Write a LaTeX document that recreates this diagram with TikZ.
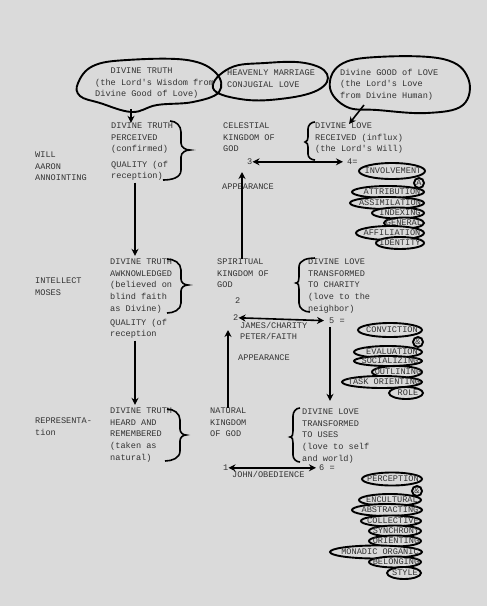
\documentclass[tikz,border=0pt]{standalone}
\usepackage{fontspec}
\setmonofont{Liberation Mono}
\usetikzlibrary{arrows.meta,calc}
\definecolor{bg}{HTML}{DADADA}
\definecolor{ink}{HTML}{333333}
\begin{document}
\begin{tikzpicture}[x=1pt,y=-1pt,
  font=\ttfamily\fontsize{8.6}{11.6}\selectfont,
  txt/.style={anchor=north west,inner sep=0pt,yshift=5.2pt,align=left,text=ink,execute at begin node=\strut},
  stxt/.style={anchor=center,inner sep=0pt,text=ink},
  arr/.style={line width=1.6pt,-{Stealth[length=7pt,width=7pt]}},
  darr/.style={line width=1.6pt,{Stealth[length=7pt,width=7pt]}-{Stealth[length=7pt,width=7pt]}},
  brc/.style={line width=1.6pt},
  cloud/.style={line width=1.9pt},
  stk/.style={draw,line width=1.9pt,fill=bg}]
\fill[bg] (0,0) rectangle (487,606);
\useasboundingbox (0,0) rectangle (487,606);

% ---- top clouds ----
\draw[cloud] plot[smooth cycle,tension=0.65] coordinates {(78,83) (93,66) (127,60) (187,60) (216,73) (219,92) (193,102) (157,105) (132,112) (100,103) (80,96)};
\draw[cloud] plot[smooth cycle,tension=0.7] coordinates {(213,88) (230,68) (265,63) (305,63) (327,74) (318,90) (280,99) (240,99)};
\draw[cloud] plot[smooth cycle,tension=0.65] coordinates {(330,88) (340,65) (377,57) (443,59) (468,78) (463,105) (427,113) (377,110) (347,107)};
\node[txt] (cl1) at (95,73) {\ \ \ DIVINE TRUTH\\(the Lord's Wisdom from\\Divine Good of Love)};
\node[txt] (cl2) at (227,75) {HEAVENLY MARRIAGE\\CONJUGIAL LOVE};
\node[txt] (cl3) at (340,74) {Divine GOOD of LOVE\\(the Lord's Love\\from Divine Human)};

% ---- row 1 ----
\node[txt] (wil) at (35,157) {WILL\\AARON\\ANNOINTING};
\node[txt] (t1) at (111,128) {DIVINE TRUTH\\PERCEIVED\\(confirmed)};
\node[txt] (q1) at (111,166) {QUALITY (of\\reception)};
\node[txt] (cel) at (223,128) {CELESTIAL\\KINGDOM OF\\GOD};
\node[txt] (love1) at (315,128) {DIVINE LOVE\\RECEIVED (influx)\\(the Lord's Will)};
\node[txt] (n3) at (247,161) {3};
\node[txt] (n4) at (347,161) {4=};
\node[txt] (app1) at (222,186) {APPEARANCE};

% ---- row 2 ----
\node[txt] (int) at (35,283) {INTELLECT\\MOSES};
\node[txt] (t2) at (110,264) {DIVINE TRUTH\\AWKNOWLEDGED\\(believed on\\blind faith\\as Divine)};
\node[txt] (q2) at (110,324) {QUALITY (of\\reception};
\node[txt] (sp) at (217,264) {SPIRITUAL\\KINGDOM OF\\GOD};
\node[txt] (sp2) at (235,300) {2};
\node[txt] (love2) at (308,264) {DIVINE LOVE\\TRANSFORMED\\TO CHARITY\\(love to the\\neighbor)};
\node[txt] (n2) at (233,317) {2};
\node[txt] (n5) at (329,320) {5 =};
\node[txt] (jam) at (240,327) {JAMES/CHARITY\\PETER/FAITH};
\node[txt] (app2) at (238,357) {APPEARANCE};

% ---- row 3 ----
\node[txt] (rep) at (35,423) {REPRESENTA-\\tion};
\node[txt] (t3) at (110,413) {DIVINE TRUTH\\HEARD AND\\REMEMBERED\\(taken as\\natural)};
\node[txt] (nat) at (210,413) {NATURAL\\KINGDOM\\OF GOD};
\node[txt] (love3) at (302,414) {DIVINE LOVE\\TRANSFORMED\\TO USES\\(love to self\\and world)};
\node[txt] (n1) at (223,467) {1};
\node[txt] (n6) at (319,467) {6 =};
\node[txt] (joh) at (232,474) {JOHN/OBEDIENCE};

% ---- braces ----
\draw[brc] (170,121) to[out=0,in=90] (181,132) -- (181,143) to[out=-90,in=180] (190,150) to[out=180,in=90] (181,157) -- (181,170) to[out=-90,in=0] (163,180);
\draw[brc] (167,259) to[out=0,in=90] (181,270) -- (181,279) to[out=-90,in=180] (188,285) to[out=180,in=90] (181,291) -- (181,303) to[out=-90,in=0] (167,313);
\draw[brc] (167,409) to[out=0,in=90] (180,420) -- (180,429) to[out=-90,in=180] (186,435) to[out=180,in=90] (180,441) -- (180,451) to[out=-90,in=0] (165,461);
\draw[brc] (315,122) to[out=180,in=90] (308,129) -- (308,137) to[out=-90,in=0] (305,142) to[out=0,in=90] (308,147) -- (308,154) to[out=-90,in=180] (315,160);
\draw[brc] (315,258) to[out=180,in=90] (299,267) -- (299,277) to[out=-90,in=0] (296,283) to[out=0,in=90] (299,289) -- (299,303) to[out=-90,in=180] (310,312);
\draw[brc] (300,408) to[out=180,in=90] (293,416) -- (293,431) to[out=-90,in=0] (290,437) to[out=0,in=90] (293,443) -- (293,455) to[out=-90,in=180] (300,462);

% ---- connectors ----
\coordinate (c1b) at (131,109);
\coordinate (c3b) at (364,105);
\coordinate (c3e) at (349,124);
\coordinate (ax1) at (135,0);
\coordinate (ax7) at (330,0);
\coordinate (up1) at (242,172);
\coordinate (up2) at (228,330);
\draw[arr] (c1b) -- (t1.north -| c1b);
\draw[arr] (c3b) -- (c3e);
\draw[arr,shorten >=3pt] (q1.south -| ax1) -- (t2.north -| ax1);
\draw[arr,shorten >=3pt] (q2.south -| ax1) -- (t3.north -| ax1);
\draw[arr] (sp.north -| up1) -- (up1);
\draw[arr] (nat.north -| up2) -- (up2);
\draw[darr,shorten >=4pt] (n3.east) -- (n4.west);
\draw[darr,shorten >=5pt] (n2.east) -- (n5.west);
\draw[darr,shorten >=3pt] (n1.east) -- (n6.west);
\draw[arr,shorten >=8pt] (n5.south -| ax7) -- (love3.north -| ax7);

% ---- stack 1 ----
\draw[stk] (392,171) ellipse [x radius=33,y radius=8];
\draw[stk] (419,183) circle [radius=5];
\draw[stk] (388,192) ellipse [x radius=36,y radius=6];
\draw[stk] (387,203) ellipse [x radius=37,y radius=6];
\draw[stk] (398,213) ellipse [x radius=26,y radius=5.5];
\draw[stk] (404,223) ellipse [x radius=20,y radius=5.5];
\draw[stk] (390,233) ellipse [x radius=34,y radius=7];
\draw[stk] (400,243) ellipse [x radius=24,y radius=6];
\node[stxt] (s1a) at (393,171) {INVOLVEMENT};
\node[stxt] (s1b) at (419,183) {A};
\node[stxt] (s1c) at (392,192) {ATTRIBUTION};
\node[stxt] (s1d) at (390,203) {ASSIMILATION};
\node[stxt] (s1e) at (400,213) {INDEXING};
\node[stxt] (s1f) at (404,223) {GENERAL};
\node[stxt] (s1g) at (392,233) {AFFILIATION};
\node[stxt] (s1h) at (400,243) {IDENTITY};

% ---- stack 2 ----
\draw[stk] (390,330) ellipse [x radius=32,y radius=7];
\draw[stk] (418,342) circle [radius=5];
\draw[stk] (388,352) ellipse [x radius=34,y radius=6];
\draw[stk] (388,361) ellipse [x radius=34,y radius=5];
\draw[stk] (397,372) ellipse [x radius=25,y radius=6];
\draw[stk] (382,382) ellipse [x radius=40,y radius=6];
\draw[stk] (406,393) ellipse [x radius=17,y radius=6];
\node[stxt] (s2a) at (392,330) {CONVICTION};
\node[stxt] (s2b) at (418,342) {\&};
\node[stxt] (s2c) at (392,352) {EVALUATION};
\node[stxt] (s2d) at (390,361) {SOCIALIZING};
\node[stxt] (s2e) at (398,372) {OUTLINING};
\node[stxt] (s2f) at (384,382) {TASK ORIENTING};
\node[stxt] (s2g) at (408,393) {ROLE};

% ---- stack 3 ----
\draw[stk] (392,479) ellipse [x radius=30,y radius=6.5];
\draw[stk] (417,491) circle [radius=5];
\draw[stk] (390,500) ellipse [x radius=31,y radius=6];
\draw[stk] (387,510) ellipse [x radius=35,y radius=6];
\draw[stk] (391,521) ellipse [x radius=30,y radius=5.5];
\draw[stk] (395,531) ellipse [x radius=26,y radius=5.5];
\draw[stk] (395,541) ellipse [x radius=26,y radius=5.5];
\draw[stk] (376,552) ellipse [x radius=46,y radius=6.5];
\draw[stk] (395,562) ellipse [x radius=26,y radius=5.5];
\draw[stk] (404,573) ellipse [x radius=17,y radius=6];
\node[stxt] (s3a) at (393,479) {PERCEPTION};
\node[stxt] (s3b) at (417,491) {\&};
\node[stxt] (s3c) at (392,500) {ENCULTURAL};
\node[stxt] (s3d) at (390,510) {ABSTRACTING};
\node[stxt] (s3e) at (393,521) {COLLECTIVE};
\node[stxt] (s3f) at (396,531) {SYNCHRONY};
\node[stxt] (s3g) at (396,541) {ORIENTING};
\node[stxt] (s3h) at (380,552) {MONADIC ORGANIC};
\node[stxt] (s3i) at (396,562) {BELONGING};
\node[stxt] (s3j) at (405,573) {STYLE};
\end{tikzpicture}
\end{document}
